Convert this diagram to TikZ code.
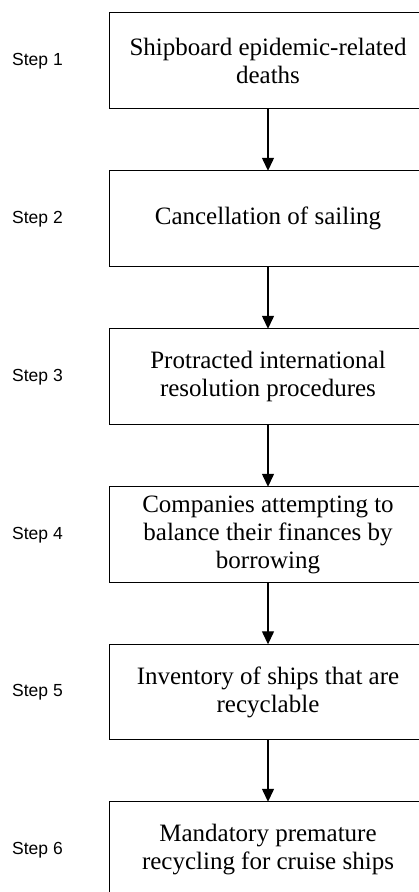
\documentclass[tikz,border=0pt]{standalone}
\usepackage{fontspec}
\setmainfont{Liberation Serif}
\newfontfamily\stepfont{Liberation Sans}
\usetikzlibrary{arrows.meta}
\begin{document}
\begin{tikzpicture}[x=1pt,y=-1pt,
  stepbox/.style={minimum width=316pt, minimum height=95pt,
    inner sep=0pt, align=center, font=\fontsize{25}{28}\selectfont},
  frame/.style={draw=black, line width=1.3pt, line join=miter},
  steplabel/.style={anchor=west, inner sep=0pt, font=\stepfont\fontsize{17.5}{20}\selectfont},
  flow/.style={draw=black, line width=1.3pt, -{Triangle[width=12pt,length=13pt]}}]
\useasboundingbox (0,0) rectangle (419,892);
\clip (0,0) rectangle (419,892);
\fill[white] (0,0) rectangle (419,892);
\node[stepbox] (b1) at (268,60.5) {Shipboard epidemic-related\\deaths};
\node[stepbox] (b2) at (268,218.5) {Cancellation of sailing};
\node[stepbox] (b3) at (268,376.5) {Protracted international\\resolution procedures};
\node[stepbox] (b4) at (268,534.5) {Companies attempting to\\balance their finances by\\borrowing};
\node[stepbox] (b5) at (268,692) {Inventory of ships that are\\recyclable};
\node[stepbox] (b6) at (268,849.5) {Mandatory premature\\recycling for cruise ships};
\foreach \b in {b1,b2,b3,b4,b5}{
  \draw[frame] ([xshift=40pt]\b.north east) -- (\b.north west) -- (\b.south west) -- ([xshift=40pt]\b.south east);
}
\draw[frame] ([xshift=40pt]b6.north east) -- (b6.north west) -- ([yshift=-40pt]b6.south west);
\node[steplabel] (s1) at (12,61) {Step 1};
\node[steplabel] (s2) at (12,219) {Step 2};
\node[steplabel] (s3) at (12,377) {Step 3};
\node[steplabel] (s4) at (12,535) {Step 4};
\node[steplabel] (s5) at (12,692.5) {Step 5};
\node[steplabel] (s6) at (12,850) {Step 6};
\draw[flow] (b1) -- (b2);
\draw[flow] (b2) -- (b3);
\draw[flow] (b3) -- (b4);
\draw[flow] (b4) -- (b5);
\draw[flow] (b5) -- (b6);
\end{tikzpicture}
\end{document}
